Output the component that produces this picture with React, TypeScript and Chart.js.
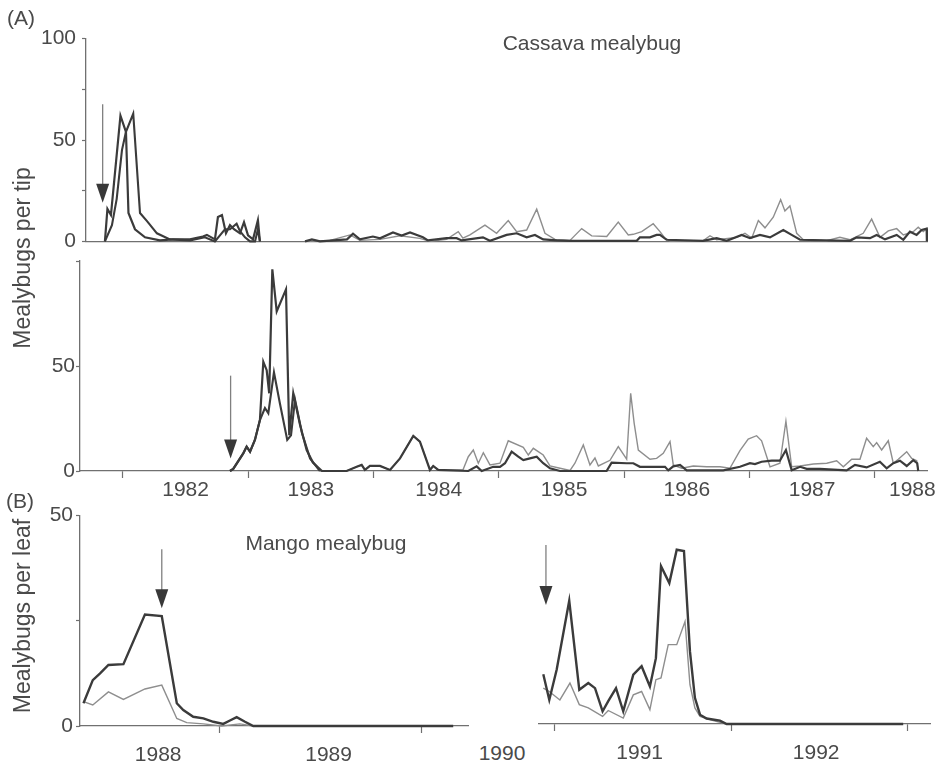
import React, { useEffect, useRef } from "react";
import { Chart, registerables } from "chart.js";

Chart.register(...registerables);

const FONT = '"Liberation Sans", Arial, Helvetica, sans-serif';
const TEXT = "#4a4a4a";
const AXIS = "#707070";
const DARK = "#3b3b3b";
const LIGHT = "#8e8e8e";

// ---------- Panel A, upper site (cassava mealybug per tip) ----------
const aTopDarkYears = [
  1981.856, 1981.876, 1981.904, 1981.98, 1982.024, 1982.044, 1982.096, 1982.176, 1982.295, 1982.399,
  1982.535, 1982.638, 1982.67, 1982.734, 1982.758, 1982.79, 1982.822, 1982.854, 1982.886, 1982.934,
  1982.966, 1982.998, 1983.038, 1983.077, 1983.093, 1983.27, 1983.453, 1983.508, 1983.572, 1983.788,
  1983.836, 1983.891, 1983.995, 1984.051, 1984.155, 1984.224, 1984.291, 1984.394, 1984.434, 1984.583,
  1984.663, 1984.703, 1984.873, 1984.929, 1985.062, 1985.142, 1985.222, 1985.288, 1985.354, 1985.461,
  1985.568, 1985.807, 1986.1, 1986.126, 1986.206, 1986.259, 1986.286, 1986.339, 1986.629, 1986.738,
  1986.818, 1986.938, 1987.004, 1987.084, 1987.164, 1987.27, 1987.337, 1987.404, 1987.802, 1987.856,
  1987.962, 1988.015, 1988.082, 1988.175, 1988.228, 1988.281, 1988.334, 1988.374, 1988.414, 1988.416,
];
const aTopDarkValues = [
  0, 16, 13, 62, 54, 14, 6, 2, 0.5, 1,
  1, 2.4, 3.2, 1, 12, 13, 4, 8, 6, 4,
  9.5, 3, 1, 10.5, 0, null, 0, 1, 0, 1,
  3.8, 1, 2.4, 1.5, 4.4, 2.9, 4.4, 2, 0.5, 1.6,
  1.6, 0.5, 2, 0.3, 3.2, 4, 2, 3.2, 1, 0.5,
  0.3, 0.3, 0.3, 2, 2, 3.2, 3.2, 0.8, 0.3, 1.6,
  0.3, 3.2, 1.6, 3.2, 2, 5.6, 3.2, 0.8, 0.3, 2,
  1.6, 3.2, 1, 3.2, 0.8, 4.8, 3.2, 5.6, 6.3, 0,
];
const aTopLightYears = [
  1981.856, 1981.912, 1981.95, 1981.992, 1982.024, 1982.082, 1982.136, 1982.192, 1982.271, 1982.375,
  1982.535, 1982.654, 1982.734, 1982.774, 1982.814, 1982.854, 1982.907, 1982.934, 1982.974, 1983.014,
  1983.054, 1983.077, 1983.093, 1983.27, 1983.453, 1983.652, 1983.812, 1983.891, 1984.051, 1984.211,
  1984.37, 1984.45, 1984.583, 1984.676, 1984.713, 1984.769, 1984.889, 1984.982, 1985.075, 1985.142,
  1985.222, 1985.302, 1985.368, 1985.448, 1985.568, 1985.661, 1985.741, 1985.861, 1985.953, 1986.033,
  1986.073, 1986.14, 1986.232, 1986.286, 1986.326, 1986.366, 1986.629, 1986.685, 1986.738, 1986.898,
  1986.964, 1987.018, 1987.071, 1987.124, 1987.19, 1987.249, 1987.283, 1987.323, 1987.377, 1987.43,
  1987.616, 1987.722, 1987.802, 1987.908, 1987.975, 1988.042, 1988.108, 1988.175, 1988.228, 1988.307,
  1988.347, 1988.387, 1988.414, 1988.416,
];
const aTopLightValues = [
  0, 8, 21, 45, 54, 63, 14, 10, 4, 1,
  0.5, 2, 0, 3, 6, 6, 8.7, 5, 2, 0,
  0, 6, 0, null, 0, 0.5, 3.2, 0.5, 1, 2.8,
  1.5, 0, 1, 4.8, 1.6, 3.2, 8, 4, 10.3, 4.8,
  5.6, 15.9, 4, 1, 0.5, 6.3, 2.7, 2.4, 9.5, 3.2,
  3.5, 4.8, 8.7, 4.8, 1.6, 0.3, 0.3, 2.8, 0.8, 2,
  4, 1.6, 10.3, 6.7, 11.9, 20.6, 15, 17.5, 4, 0.8,
  0.3, 2, 0.8, 4, 11, 2, 5.2, 6.3, 3.2, 4.8,
  7, 4.8, 6.3, 0,
];

// ---------- Panel A, lower site ----------
const aLowDarkYears = [
  1982.854, 1982.88, 1982.96, 1982.987, 1983.014, 1983.053, 1983.093, 1983.12, 1983.147, 1983.167,
  1983.192, 1983.227, 1983.301, 1983.327, 1983.359, 1983.413, 1983.466, 1983.516, 1983.588, 1983.785,
  1983.865, 1983.905, 1983.931, 1983.971, 1984.051, 1984.131, 1984.211, 1984.317, 1984.37, 1984.45,
  1984.476, 1984.516, 1984.756, 1984.823, 1984.863, 1984.955, 1985.009, 1985.049, 1985.102, 1985.155,
  1985.195, 1985.248, 1985.302, 1985.354, 1985.408, 1985.488, 1985.86, 1985.9, 1986.02, 1986.073,
  1986.126, 1986.206, 1986.326, 1986.352, 1986.392, 1986.446, 1986.499, 1986.791, 1986.924, 1987.004,
  1987.044, 1987.097, 1987.177, 1987.243, 1987.291, 1987.337, 1987.404, 1987.457, 1987.563, 1987.776,
  1987.842, 1987.935, 1988.041, 1988.095, 1988.148, 1988.201, 1988.255, 1988.307, 1988.339, 1988.347,
];
const aLowDarkValues = [
  0, 1, 8.4, 11.6, 9.2, 14.8, 24.3, 52, 48, 37,
  96, 76, 86.5, 17, 37, 22, 10, 4, 0, 0,
  2, 2.9, 0.5, 2.4, 2.4, 0.5, 6, 16.7, 14, 0.5,
  2.4, 0.5, 0, 2.2, 0, 2, 2, 3.7, 9.2, 6.8,
  5.2, 6, 6.8, 3.7, 1.3, 0, 0, 4, 3.7, 3.7,
  2, 2, 2, 0.3, 2.2, 2.9, 0.3, 0.3, 2, 3.7,
  3.3, 4.4, 4.9, 4.9, 10, 0.3, 2, 1, 1, 0.3,
  2.9, 1.7, 4.4, 1.3, 3.7, 4.9, 2.4, 5.2, 3.7, 0,
];
const aLowLightYears = [
  1982.854, 1982.88, 1982.96, 1982.987, 1983.014, 1983.053, 1983.093, 1983.133, 1983.16, 1983.205,
  1983.253, 1983.311, 1983.341, 1983.373, 1983.429, 1983.493, 1983.572, 1983.785, 1983.865, 1983.905,
  1983.931, 1983.971, 1984.051, 1984.131, 1984.211, 1984.317, 1984.37, 1984.45, 1984.476, 1984.516,
  1984.713, 1984.756, 1984.796, 1984.836, 1984.876, 1984.929, 1985.009, 1985.075, 1985.195, 1985.235,
  1985.275, 1985.354, 1985.408, 1985.488, 1985.568, 1985.607, 1985.674, 1985.727, 1985.767, 1985.794,
  1985.887, 1985.953, 1986.02, 1986.052, 1986.08, 1986.113, 1986.206, 1986.259, 1986.312, 1986.366,
  1986.392, 1986.459, 1986.552, 1986.658, 1986.765, 1986.844, 1986.924, 1986.99, 1987.057, 1987.097,
  1987.164, 1987.243, 1987.291, 1987.337, 1987.404, 1987.51, 1987.617, 1987.696, 1987.749, 1987.816,
  1987.882, 1987.935, 1987.988, 1988.015, 1988.055, 1988.108, 1988.148, 1988.188, 1988.255, 1988.295,
  1988.335, 1988.347,
];
const aLowLightValues = [
  0, 1, 8.4, 11.6, 9.2, 14.8, 24.3, 30, 27.5, 47,
  32, 14.8, 17, 34, 18, 6, 0, 0, 2, 2.9,
  0.5, 2.4, 2.4, 0.5, 6, 16.7, 14, 0.5, 2.4, 0.5,
  0.5, 6.8, 10, 3.7, 8.7, 2.9, 3.7, 14.4, 11.3, 7.6,
  10.8, 7.6, 2.4, 1.3, 0.3, 3.7, 12.4, 2.9, 6.2, 2.4,
  5.1, 11.6, 5.6, 37, 22.7, 10, 5.6, 6, 8.4, 14,
  2.9, 1.3, 2.4, 2, 2, 1.3, 9.7, 15.2, 16.8, 14.4,
  2, 3.7, 23.7, 2, 2.4, 3.3, 3.7, 4.9, 2, 5.6,
  5.6, 15.6, 11.6, 13.5, 10, 14.4, 3.7, 5.6, 9.2, 6,
  4.9, 0,
];

// ---------- Panel B (mango mealybug per leaf) ----------
const bLeftDarkYears = [
  1988.332, 1988.378, 1988.414, 1988.455, 1988.529, 1988.635, 1988.718, 1988.792, 1988.824, 1988.873,
  1988.923, 1988.972, 1989.021, 1989.054, 1989.087, 1989.128, 1989.169, 1990.154,
];
const bLeftDarkValues = [5.4, 10.9, 12.5, 14.5, 14.7, 26.5, 26.1, 5.4, 3.8, 2.2, 1.8, 1, 0.5, 1.3, 2.1, 1, 0, 0];
const bLeftLightYears = [
  1988.332, 1988.378, 1988.455, 1988.529, 1988.635, 1988.718, 1988.792, 1988.841, 1988.923, 1989.013,
  1989.103, 1989.169, 1990.154,
];
const bLeftLightValues = [5.8, 5, 8.1, 6.3, 8.8, 9.7, 1.8, 0.8, 0.5, 0, 0.5, 0, 0];

const bRightDarkYears = [
  1990.934, 1990.968, 1991.01, 1991.081, 1991.138, 1991.189, 1991.227, 1991.27, 1991.302, 1991.346,
  1991.387, 1991.444, 1991.491, 1991.538, 1991.572, 1991.601, 1991.648, 1991.69, 1991.731, 1991.765,
  1991.793, 1991.822, 1991.859, 1991.935, 1991.973, 1992.973,
];
const bRightDarkValues = [
  11.8, 5.7, 12.9, 29.2, 8.1, 9.7, 8.5, 3, 5.4, 8.5,
  3, 11.7, 13.7, 8.9, 15.6, 37.4, 33.4, 41.3, 41, 17.2,
  6.2, 2.2, 1.3, 0.8, 0, 0,
];
const bRightLightYears = [
  1990.934, 1990.968, 1991.028, 1991.085, 1991.138, 1991.189, 1991.27, 1991.302, 1991.387, 1991.444,
  1991.491, 1991.538, 1991.572, 1991.601, 1991.642, 1991.69, 1991.737, 1991.765, 1991.793, 1991.822,
  1991.897, 1991.973, 1992.973,
];
const bRightLightValues = [
  8.5, 7.7, 5.7, 9.7, 4.6, 3.8, 1.8, 3.2, 1.4, 6.9,
  7.7, 3.4, 10.5, 10.9, 18.8, 18.8, 24.3, 9.3, 3.8, 1.8,
  0.8, 0, 0,
];

// ---------- axes ----------
const aYearBoundaries = [1982, 1983, 1984, 1985, 1986, 1987, 1988];
const aYearLabelAt = [1982.5, 1983.5, 1984.52, 1985.52, 1986.5, 1987.5, 1988.3];
const aYearLabels = ["1982", "1983", "1984", "1985", "1986", "1987", "1988"];

const bLeftBoundaries = [1989, 1990];
const bLeftLabelAt = [1988.7, 1989.54];
const bLeftLabels = ["1988", "1989"];
const bRightBoundaries = [1991, 1992, 1993];
const bRightLabelAt = [1991.48, 1992.48];
const bRightLabels = ["1991", "1992"];

const yTicksATop = [0, 25, 50, 75, 100];
const yLabelsATop = ["0", "", "50", "", "100"];
const yTicksALow = [0, 50, 100];
const yLabelsALow = ["0", "50", ""];
const yTicksB = [0, 25, 50];
const yLabelsB = ["0", "", "50"];

// the second series prints as dark as the first during the first outbreak
const aTopLightDarkUntil = 1983.2;
const aLowLightDarkUntil = 1983.6;

// arrows: [year, from value, to value]
const arrowATop = [1981.838, 67.6, 19];
const arrowALow = [1982.859, 45.4, 6];
const arrowBLeft = [1988.718, 42, 28];
const arrowBRight = [1990.949, 42.4, 28.2];

const pts = (xs: number[], ys: (number | null)[]) => xs.map((x, i) => ({ x, y: ys[i] }));

function makeArrowPlugin(arrows: number[][]) {
  return {
    id: "arrows",
    afterDatasetsDraw(chart: any) {
      const { ctx, scales } = chart;
      arrows.forEach(([yr, from, to]) => {
        const px = scales.x.getPixelForValue(yr);
        const y0 = scales.y.getPixelForValue(from);
        const y1 = scales.y.getPixelForValue(to);
        const head = 19;
        const half = 6.5;
        ctx.save();
        ctx.strokeStyle = "#808080";
        ctx.lineWidth = 1.3;
        ctx.beginPath();
        ctx.moveTo(px, y0);
        ctx.lineTo(px, y1 - head + 2);
        ctx.stroke();
        ctx.fillStyle = "#383838";
        ctx.beginPath();
        ctx.moveTo(px - half, y1 - head);
        ctx.lineTo(px + half, y1 - head);
        ctx.lineTo(px, y1);
        ctx.closePath();
        ctx.fill();
        ctx.restore();
      });
    },
  };
}

function yAxis(max: number, values: number[], labels: string[], width: number, pad: number, show = true) {
  return {
    type: "linear",
    min: 0,
    max,
    display: show,
    afterBuildTicks: (s: any) => {
      s.ticks = values.map((v) => ({ value: v }));
    },
    ticks: {
      autoSkip: false,
      padding: pad,
      color: TEXT,
      font: { family: FONT, size: 21 },
      callback: (v: number) => labels[values.indexOf(v)] ?? "",
    },
    grid: { display: true, drawOnChartArea: false, drawTicks: true, tickLength: 4, tickColor: AXIS, tickWidth: 1.2 },
    border: { display: true, color: AXIS, width: 1.3 },
    afterFit: (s: any) => {
      s.width = width;
    },
  };
}

function xAxis(
  min: number,
  max: number,
  boundaries: number[],
  labelAt: number[],
  labels: string[],
  height: number,
  pad: number,
  showTicks = true
) {
  return {
    type: "linear",
    min,
    max,
    afterBuildTicks: (s: any) => {
      s.ticks = [...boundaries, ...labelAt].sort((a, b) => a - b).map((v) => ({ value: v }));
    },
    ticks: {
      display: showTicks,
      autoSkip: false,
      maxRotation: 0,
      minRotation: 0,
      padding: pad,
      color: TEXT,
      font: { family: FONT, size: 21 },
      callback: (v: number) => {
        const i = labelAt.indexOf(v);
        return i >= 0 ? labels[i] : "";
      },
    },
    grid: {
      display: showTicks,
      drawOnChartArea: false,
      drawTicks: true,
      tickLength: 7,
      tickWidth: 1.2,
      tickColor: (ctx: any) => (ctx.tick && labelAt.includes(ctx.tick.value) ? "rgba(0,0,0,0)" : AXIS),
    },
    border: { display: true, color: AXIS, width: 1.3 },
    afterFit: (s: any) => {
      s.height = height;
    },
  };
}

function lineSet(xs: number[], ys: (number | null)[], color: string, width: number, darkUntil?: number) {
  const ds: any = {
    data: pts(xs, ys),
    borderColor: color,
    borderWidth: width,
    pointRadius: 0,
    tension: 0,
    fill: false,
    spanGaps: false,
    clip: 6,
  };
  if (darkUntil !== undefined) {
    ds.segment = {
      borderColor: (c: any) => (c.p1.parsed.x <= darkUntil ? DARK : color),
      borderWidth: (c: any) => (c.p1.parsed.x <= darkUntil ? 2.1 : width),
    };
  }
  return ds;
}

function buildConfig(datasets: any[], x: any, y: any, padding: any, arrows: number[][]) {
  return {
    type: "line",
    data: { datasets },
    options: {
      responsive: false,
      animation: false,
      devicePixelRatio: 1,
      layout: { padding },
      plugins: { legend: { display: false }, tooltip: { enabled: false }, title: { display: false } },
      events: [],
      scales: { x, y },
    },
    plugins: [makeArrowPlugin(arrows)],
  };
}

function Panel({ left, top, width, height, make }: { left: number; top: number; width: number; height: number; make: () => any }) {
  const ref = useRef<HTMLCanvasElement>(null);
  useEffect(() => {
    const chart = new Chart(ref.current as HTMLCanvasElement, make());
    return () => chart.destroy();
  }, []);
  return (
    <div style={{ position: "absolute", left, top, width, height }}>
      <canvas ref={ref} width={width} height={height} style={{ width, height, display: "block" }} />
    </div>
  );
}

const txt = (extra: React.CSSProperties): React.CSSProperties => ({
  position: "absolute",
  fontFamily: FONT,
  fontSize: 21,
  lineHeight: 1,
  color: TEXT,
  whiteSpace: "nowrap",
  transform: "translate(-50%, -50%)",
  ...extra,
});

export default function App() {
  return (
    <div style={{ position: "fixed", left: 0, top: 0, width: 938, height: 762, background: "#ffffff", overflow: "hidden" }}>
      <Panel
        left={0}
        top={20}
        width={938}
        height={240}
        make={() =>
          buildConfig(
            [
              lineSet(aTopDarkYears, aTopDarkValues, DARK, 2.2),
              lineSet(aTopLightYears, aTopLightValues, LIGHT, 1.4, aTopLightDarkUntil),
            ],
            xAxis(1981.705, 1988.417, [], [], [], 15, 0, false),
            yAxis(100, yTicksATop, yLabelsATop, 86, 6),
            { top: 15, right: 11, left: 0, bottom: 0 },
            [arrowATop]
          )
        }
      />
      <Panel
        left={0}
        top={246}
        width={938}
        height={265}
        make={() =>
          buildConfig(
            [
              lineSet(aLowDarkYears, aLowDarkValues, DARK, 2.2),
              lineSet(aLowLightYears, aLowLightValues, LIGHT, 1.4, aLowLightDarkUntil),
            ],
            xAxis(1981.657, 1988.417, aYearBoundaries, aYearLabelAt, aYearLabels, 40, 0),
            yAxis(100, yTicksALow, yLabelsALow, 80, 1),
            { top: 15, right: 11, left: 0, bottom: 0 },
            [arrowALow]
          )
        }
      />
      <Panel
        left={0}
        top={500}
        width={472}
        height={262}
        make={() =>
          buildConfig(
            [lineSet(bLeftDarkYears, bLeftDarkValues, DARK, 2.4), lineSet(bLeftLightYears, bLeftLightValues, LIGHT, 1.4)],
            xAxis(1988.315, 1990.227, bLeftBoundaries, bLeftLabelAt, bLeftLabels, 36, 10),
            yAxis(50, yTicksB, yLabelsB, 80, 3),
            { top: 15, right: 4, left: 0, bottom: 0 },
            [arrowBLeft]
          )
        }
      />
      <Panel
        left={538}
        top={498}
        width={400}
        height={266}
        make={() =>
          buildConfig(
            [lineSet(bRightDarkYears, bRightDarkValues, DARK, 2.4), lineSet(bRightLightYears, bRightLightValues, LIGHT, 1.4)],
            xAxis(1990.904, 1993.125, bRightBoundaries, bRightLabelAt, bRightLabels, 40, 10),
            yAxis(50, yTicksB, yLabelsB, 0, 0, false),
            { top: 15, right: 8, left: 0, bottom: 0 },
            [arrowBRight]
          )
        }
      />

      <div style={txt({ left: 21, top: 17 })}>(A)</div>
      <div style={txt({ left: 592, top: 42 })}>Cassava mealybug</div>
      <div style={txt({ left: 20, top: 500 })}>(B)</div>
      <div style={txt({ left: 326, top: 542 })}>Mango mealybug</div>
      <div style={txt({ left: 502, top: 752 })}>1990</div>
      <div style={txt({ left: 22, top: 258, fontSize: 23, transform: "translate(-50%, -50%) rotate(-90deg)" })}>
        Mealybugs per tip
      </div>
      <div style={txt({ left: 22, top: 616, fontSize: 23, transform: "translate(-50%, -50%) rotate(-90deg)" })}>
        Mealybugs per leaf
      </div>
    </div>
  );
}
